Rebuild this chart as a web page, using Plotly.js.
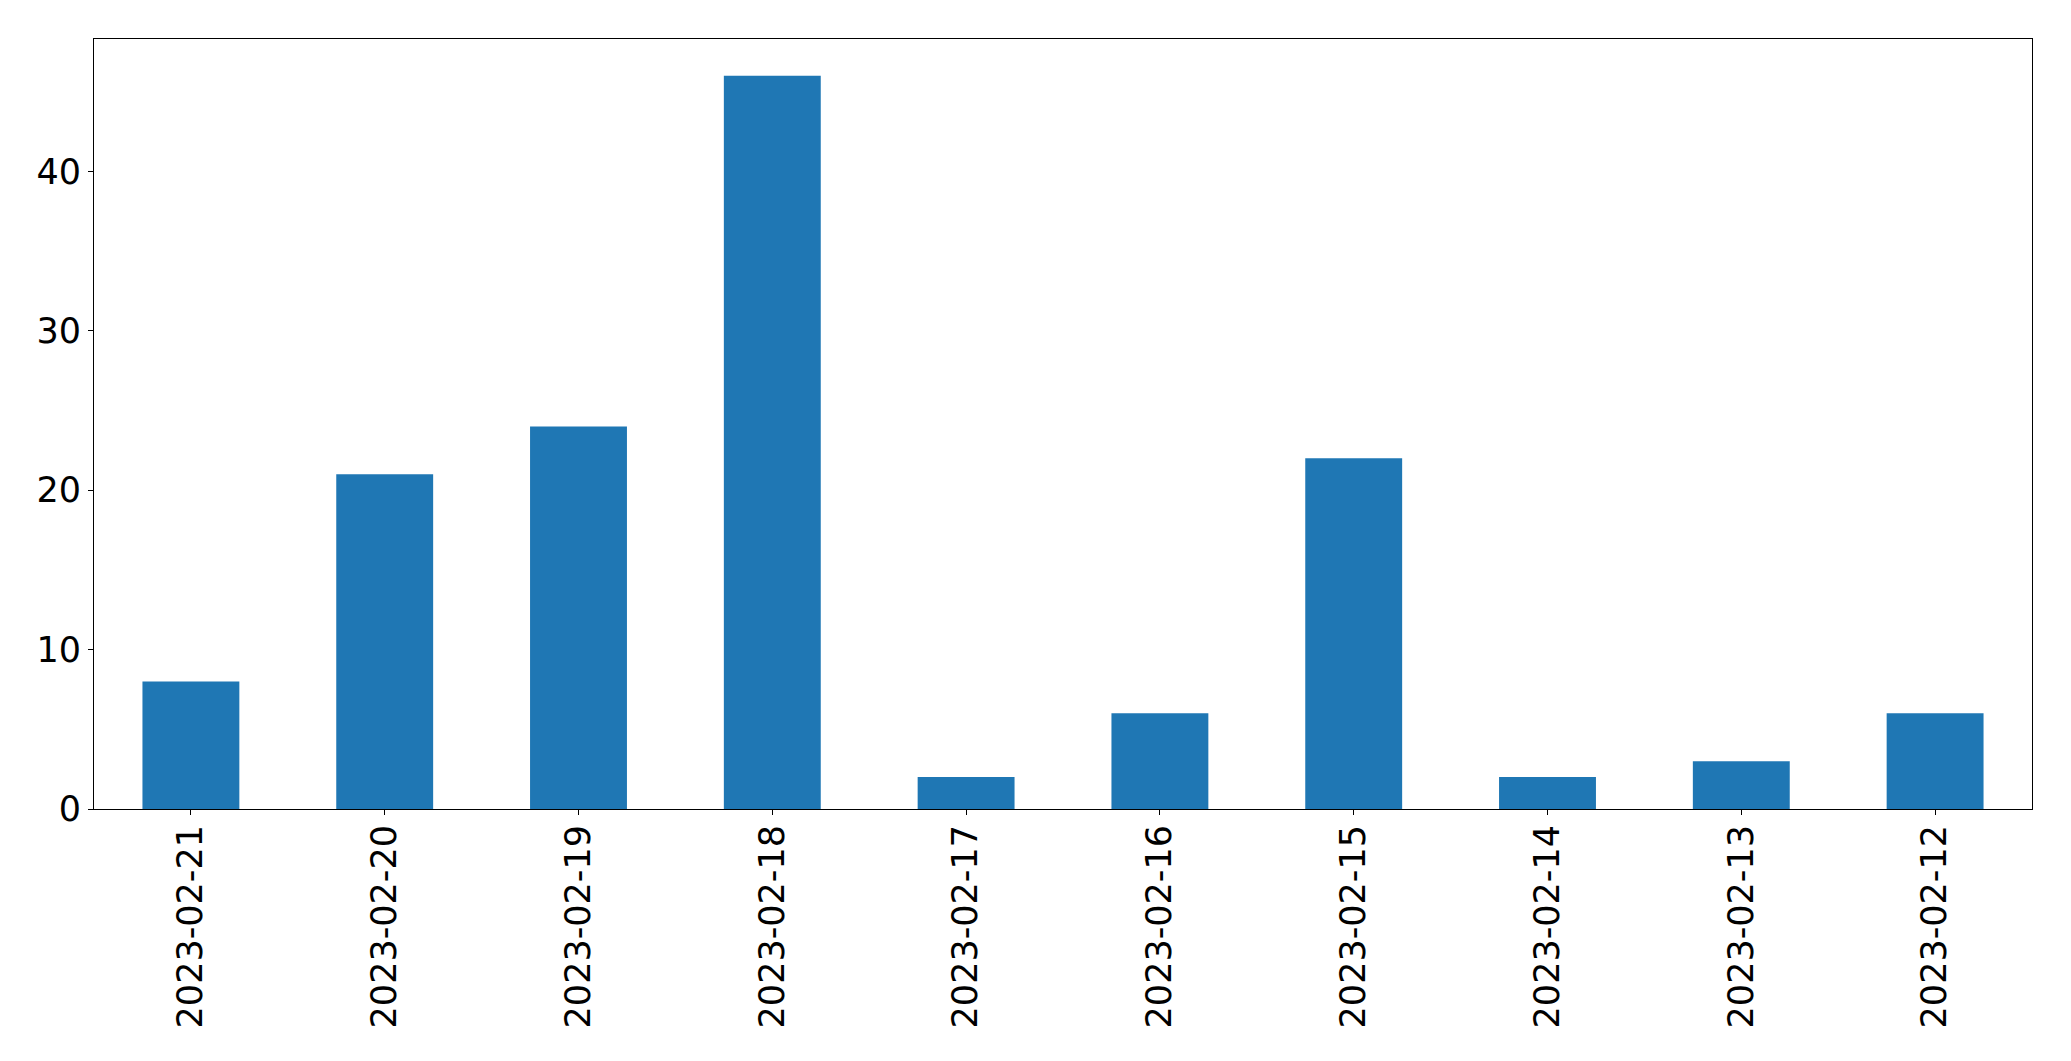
<!DOCTYPE html>
<html>
<head>
<meta charset="utf-8">
<script src="https://cdn.plot.ly/plotly-3.0.1.min.js"></script>
<style>html,body{margin:0;padding:0;background:#fff;}#chart{width:2071px;height:1061px;}</style>
</head>
<body>
<div id="chart"></div>
<script>
const categories = ["2023-02-21","2023-02-20","2023-02-19","2023-02-18","2023-02-17","2023-02-16","2023-02-15","2023-02-14","2023-02-13","2023-02-12"];
const values = [8, 21, 24, 46, 2, 6, 22, 2, 3, 6];
const yTicks = [0, 10, 20, 30, 40];

const trace = {
  type: 'bar',
  x: categories,
  y: values,
  width: 0.5,
  marker: {color: '#1f77b4', line: {width: 0}},
  hoverinfo: 'x+y'
};

const layout = {
  width: 2071,
  height: 1061,
  margin: {l: 94, r: 39, t: 39, b: 252, pad: 0},
  paper_bgcolor: '#ffffff',
  plot_bgcolor: '#ffffff',
  showlegend: false,
  font: {family: 'DejaVu Sans', size: 35, color: '#000000'},
  xaxis: {
    type: 'category',
    range: [-0.5, 9.5],
    showgrid: false,
    zeroline: false,
    showline: true,
    mirror: true,
    linecolor: '#000000',
    linewidth: 1,
    ticks: 'outside',
    ticklen: 5,
    tickwidth: 1,
    tickcolor: '#000000',
    tickangle: -90,
    ticklabelstandoff: -4,
    tickfont: {family: 'DejaVu Sans', size: 35, color: '#000000'}
  },
  yaxis: {
    range: [0, 48.3],
    tickvals: yTicks,
    ticktext: yTicks.map(String),
    showgrid: false,
    zeroline: false,
    showline: true,
    mirror: true,
    linecolor: '#000000',
    linewidth: 1,
    ticks: 'outside',
    ticklen: 5,
    tickwidth: 1,
    tickcolor: '#000000',
    tickfont: {family: 'DejaVu Sans', size: 35, color: '#000000'}
  }
};

Plotly.newPlot('chart', [trace], layout, {displayModeBar: false, staticPlot: true});
</script>
</body>
</html>
